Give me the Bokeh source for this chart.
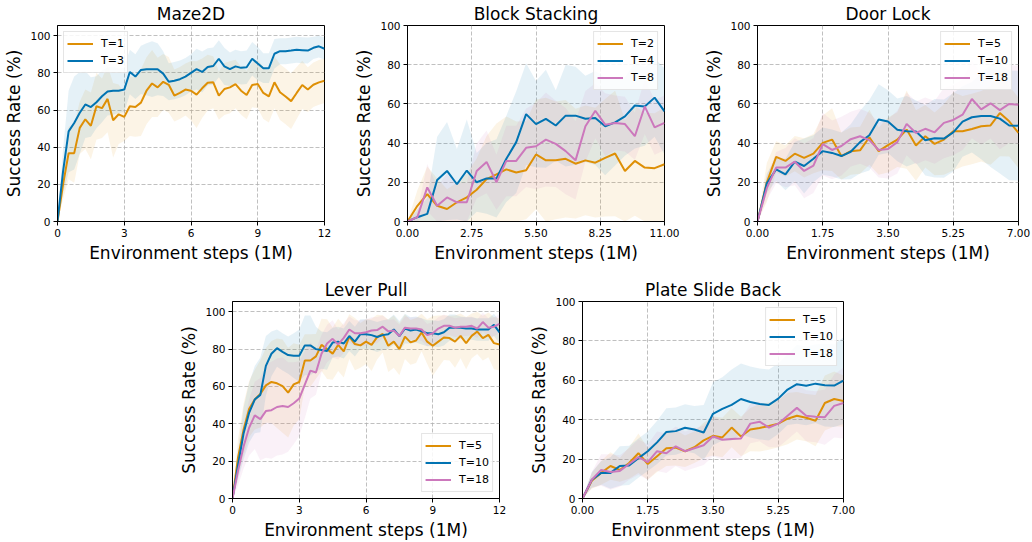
import numpy as np
from bokeh.plotting import figure
from bokeh.layouts import column, row
from bokeh.models import Range1d, FixedTicker, Legend, LegendItem, Spacer, PrintfTickFormatter
from bokeh.embed import file_html
from bokeh.resources import INLINE

ORANGE, BLUE, PINK = "#de8f05", "#0173b2", "#cc78bc"
FONT = "DejaVu Sans"

# ---------------- data ----------------
# Maze2D (0..12 M, 49 evals)
maze_t1 = [0, 20, 36.8, 36.8, 50.4, 55, 51.5, 62, 61, 66, 54.5, 57.7, 56.3, 62, 61.6, 64,
           70.4, 74.3, 72.2, 75.2, 73.6, 67.8, 69.2, 71, 70.4, 68.3, 71.7, 74.7, 74.9, 67.8,
           71.3, 72.2, 74, 70.4, 68.1, 73.5, 74, 69.2, 67.3, 74.9, 69.6, 67.3, 64.8, 69.2,
           73.5, 71, 73.6, 74.9, 75.8]
maze_t1_sd = [0, 8, 14, 16, 14, 16, 18, 18, 16, 18, 20, 16, 13, 16, 16, 18, 18, 18, 16, 15,
              15, 14, 14, 14, 16, 18, 16, 15, 14, 13, 14, 14, 13, 13, 13, 12, 13, 14, 14, 14,
              15, 15, 15, 14, 13, 12, 12, 12, 12]
maze_t3 = [0, 27, 48.5, 53, 58.5, 63, 61.6, 64.2, 67.4, 70, 70.4, 70.4, 71, 80.5, 78, 81.6,
           82, 82, 82, 79.6, 75.2, 75.8, 76.6, 78, 80, 82, 80.5, 83.2, 83.7, 87.6, 83.5, 82,
           83.5, 82.7, 83, 87.6, 85, 82.5, 82.5, 90.3, 91.7, 91.7, 92, 92.4, 92.2, 92, 93.5,
           94.3, 93]
maze_t3_sd = [0, 12, 22, 25, 22, 18, 16, 14, 14, 13, 13, 12, 12, 12, 12, 13, 14, 15, 14, 12,
              10, 10, 10, 10, 10, 11, 11, 10, 10, 10, 10, 9, 9, 9, 9, 9, 9, 8, 8, 8, 7, 7, 7,
              7, 7, 7, 6, 6, 6]

# Block Stacking (0..11 M, 27 evals)
block_t2 = [0, 8, 14, 8, 6.4, 9.8, 12.3, 16.2, 21.6, 24, 26.6, 25, 26.1, 34.2, 31.2, 31.2,
            32, 29.5, 31.2, 30, 32.5, 34.7, 25.8, 30.9, 27.5, 27.2, 29.2]
block_t2_sd = [0, 8, 14, 14, 10, 10, 12, 16, 22, 26, 27, 26, 25, 28, 32, 30, 30, 28, 28, 28,
               30, 32, 26, 28, 28, 28, 29]
block_t4 = [0, 2.2, 3.9, 21.2, 25.8, 19, 26, 20, 22, 22, 32, 40.5, 54.8, 49.7, 52.4, 49, 54,
            54, 52.4, 52.8, 48.6, 50.6, 53.6, 59.2, 58.7, 63.2, 56.2]
block_t4_sd = [0, 4, 8, 22, 25, 18, 26, 15, 18, 20, 22, 26, 26, 22, 25, 18, 26, 25, 22, 24,
               25, 22, 20, 22, 20, 20, 22]
block_t8 = [0, 2.2, 17.4, 8, 12.3, 9.8, 9.8, 25.8, 30.4, 20, 30.9, 30.9, 37.6, 38.4, 41.8,
            39.6, 35.9, 31.2, 48.6, 56.5, 49.4, 50.3, 49.7, 43.5, 58.7, 48, 50.3]
block_t8_sd = [0, 3, 12, 10, 12, 10, 10, 14, 16, 14, 18, 18, 20, 22, 24, 22, 22, 20, 18, 14,
               16, 14, 14, 12, 14, 14, 14]

# Door Lock (0..7 M, 29 evals)
door_t5 = [0, 19.9, 33, 30.9, 34.6, 32.5, 34.6, 40.1, 41.8, 33.4, 35.9, 36.3, 43, 35.9, 39,
           41.8, 46.9, 38.8, 43.5, 39.6, 41.8, 46, 46, 47.2, 48.6, 49, 55.3, 51.1, 45.2]
door_t5_sd = [0, 10, 8, 8, 9, 10, 10, 14, 16, 12, 12, 12, 14, 12, 14, 14, 20, 18, 16, 16, 18,
              20, 18, 18, 18, 20, 22, 18, 18]
door_t10 = [0, 19.5, 26.6, 24, 30.5, 28.3, 32, 35.9, 35, 33.4, 35.6, 40.5, 44, 52, 51, 46.8,
            46, 45.9, 41.5, 42.5, 42.3, 45.5, 51, 53.2, 53.8, 53.8, 52.5, 49, 48.9]
door_t10_sd = [0, 5, 6, 8, 10, 14, 12, 12, 12, 12, 14, 16, 18, 18, 16, 16, 18, 16, 18, 20, 20,
               20, 18, 18, 22, 26, 28, 28, 28]
door_t18 = [0, 17, 27.5, 27.5, 30.5, 25.8, 28.5, 39.5, 36.5, 38.5, 42, 43.5, 41.5, 36.5, 37,
            40.5, 49.8, 45.2, 47.3, 45.5, 50.3, 51.8, 54.5, 62.5, 57.2, 60.3, 56.8, 60, 59.5]
door_t18_sd = [0, 6, 8, 10, 12, 14, 14, 16, 15, 15, 14, 14, 14, 14, 15, 16, 16, 16, 16, 16,
               18, 18, 18, 20, 18, 18, 20, 20, 20]

# Lever Pull (0..12 M, 49 evals)
lever_t5 = [0, 22, 37, 48, 53, 56, 60.6, 62.4, 61.7, 60.2, 56.7, 61.1, 62.4, 73.9, 73.9, 76.1,
            82.3, 80, 77.6, 82.3, 78.8, 86.7, 82.7, 82, 84, 82.3, 86.4, 88.2, 81.8, 84, 80,
            86.7, 83.6, 84.6, 88.9, 84, 81.8, 84, 86.2, 85.9, 84, 87.1, 83.2, 87.1, 89.4, 85.9,
            87.6, 83.2, 82.5]
lever_t5_sd = [0, 10, 14, 15, 16, 18, 20, 22, 24, 25, 24, 22, 20, 14, 14, 12, 14, 16, 14, 14,
               14, 12, 14, 12, 12, 14, 12, 10, 14, 14, 14, 12, 12, 12, 10, 12, 16, 14, 12, 12,
               14, 12, 14, 12, 12, 12, 12, 14, 14]
lever_t10 = [0, 18, 35, 46, 53, 55.5, 71, 77.5, 80.5, 78.5, 76.8, 76.5, 76.5, 82, 82, 80, 79.5,
             79, 83.5, 84, 83, 87, 84, 88, 88, 87.5, 86.5, 87.5, 88, 90.5, 87, 91, 90, 90.5,
             89.5, 88.5, 88.5, 88, 89, 91.5, 91.5, 91.5, 91, 91, 90.5, 90.5, 90.5, 93, 89]
lever_t10_sd = [0, 8, 14, 16, 18, 20, 16, 12, 10, 10, 10, 12, 14, 16, 16, 12, 10, 10, 8, 8, 8,
                8, 8, 8, 8, 8, 8, 8, 8, 8, 8, 8, 7, 7, 7, 7, 7, 7, 7, 7, 7, 6, 6, 6, 6, 6, 6,
                6, 6]
lever_t18 = [0, 15, 28, 38, 44.5, 42.5, 46.8, 47.3, 49, 49.5, 49, 51, 53.5, 61, 68.5, 67.5,
             77.5, 83, 85.5, 82.5, 86, 90.5, 88.5, 88.5, 89, 90, 90.2, 92, 89.5, 90, 87, 91.5,
             91, 91, 90.5, 87.5, 88.5, 91, 92.5, 92.5, 91.5, 92, 92, 92.5, 91, 94.5, 91.5, 92,
             93.5]
lever_t18_sd = [0, 8, 12, 15, 18, 22, 25, 26, 26, 26, 24, 22, 20, 18, 15, 12, 10, 10, 10, 8, 8,
                7, 7, 7, 7, 7, 7, 6, 6, 6, 6, 6, 6, 6, 6, 6, 6, 6, 6, 5, 5, 5, 5, 5, 5, 5, 5,
                5, 5]

# Plate Slide Back (0..7 M, 29 evals)
plate_t5 = [0, 9, 13, 16.5, 14.5, 18, 23, 17.5, 21.5, 25.5, 25.8, 24, 26, 29.5, 31.8, 31, 36,
            31.5, 35, 35.8, 36.8, 38, 40.5, 42, 41, 39.5, 48.5, 50.5, 49.5]
plate_t5_sd = [0, 4, 6, 7, 6, 8, 10, 8, 8, 9, 9, 8, 8, 9, 10, 10, 10, 10, 11, 12, 12, 12, 13,
               12, 12, 13, 14, 14, 13]
plate_t10 = [0, 9.5, 13, 13, 16.5, 16.8, 20.5, 24, 28.5, 33.8, 34.2, 35.9, 35, 33.5, 43, 45.5,
             47.5, 50.5, 49, 48, 47.5, 50.7, 55.3, 58, 57.2, 58.3, 57.5, 57.3, 59.8]
plate_t10_sd = [0, 4, 6, 8, 10, 10, 10, 10, 11, 12, 12, 12, 12, 14, 16, 16, 18, 18, 18, 18, 18,
                18, 18, 20, 20, 20, 21, 21, 22]
plate_t18 = [0, 9.5, 14.5, 13.5, 14, 17.5, 21, 18.5, 24, 23, 26.5, 24, 25.5, 27, 31.5, 29.8,
             30.2, 30.5, 38, 39, 36, 38, 42, 46, 42, 41.5, 41.3, 47, 48.5]
plate_t18_sd = [0, 4, 8, 9, 8, 8, 9, 9, 10, 10, 10, 10, 10, 10, 10, 10, 10, 10, 10, 10, 10, 12,
                12, 12, 13, 13, 14, 16, 18]

int_ticks = [0, 3, 6, 9, 12]
block_ticks = [0, 2.75, 5.5, 8.25, 11]
door_ticks = [0, 1.75, 3.5, 5.25, 7]
y_ticks = [0, 20, 40, 60, 80, 100]


def panel(title, xmax, series, xticks, decimals, ymax, loc, width, height, bl, br, bt, bb):
    p = figure(width=width, height=height, output_backend="svg", toolbar_location=None,
               x_range=Range1d(0, xmax), y_range=Range1d(0, ymax),
               min_border_left=bl, min_border_right=br, min_border_top=bt,
               min_border_bottom=bb, background_fill_color="white",
               border_fill_color="white")
    p.title.text = title
    p.title.align = "center"
    p.title.text_font = FONT
    p.title.text_font_size = "17px"
    p.title.text_font_style = "normal"
    p.title.text_color = "black"
    p.title.standoff = 3
    p.outline_line_color = "black"
    p.outline_line_width = 1
    p.outline_line_alpha = 1
    p.xaxis.ticker = FixedTicker(ticks=xticks)
    p.yaxis.ticker = FixedTicker(ticks=y_ticks)
    if decimals:
        p.xaxis.formatter = PrintfTickFormatter(format="%.2f")
    p.xaxis.axis_label = "Environment steps (1M)"
    p.yaxis.axis_label = "Success Rate (%)"
    for ax in (p.xaxis, p.yaxis):
        ax.axis_label_text_font = FONT
        ax.axis_label_text_font_size = "17px"
        ax.axis_label_text_font_style = "normal"
        ax.axis_label_text_color = "black"
        ax.major_label_text_font = FONT
        ax.major_label_text_font_size = "10.5px"
        ax.major_label_text_color = "black"
        ax.axis_line_color = "black"
        ax.major_tick_line_color = "black"
        ax.major_tick_out = 4
        ax.major_tick_in = 0
        ax.minor_tick_line_color = None
        ax.major_label_standoff = 3
        ax.axis_label_standoff = 3
    p.grid.grid_line_color = "#b0b0b0"
    p.grid.grid_line_dash = "4 2"
    p.grid.grid_line_alpha = 0.8

    items = []
    for label, color, mean, sd in series:
        assert len(mean) == len(sd)
        n = len(mean)
        x = np.linspace(0, xmax, n)
        m = np.array(mean, dtype=float)
        s = np.array(sd, dtype=float)
        lo = np.clip(m - s, 0, 100)
        hi = np.clip(m + s, 0, 100)
        p.varea(x=x, y1=lo, y2=hi, fill_color=color, fill_alpha=0.1)
    for label, color, mean, sd in series:
        x = np.linspace(0, xmax, len(mean))
        r = p.line(x, mean, line_color=color, line_width=2)
        items.append(LegendItem(label=label, renderers=[r]))
    lg = Legend(items=items, location=loc)
    lg.label_text_font = FONT
    lg.label_text_font_size = "11px"
    lg.label_text_color = "black"
    lg.label_height = 17
    lg.glyph_height = 17
    lg.glyph_width = 26
    lg.label_standoff = 8
    lg.spacing = 0
    lg.padding = 3
    lg.margin = 6
    lg.border_line_color = "#cccccc"
    lg.border_line_width = 1
    lg.background_fill_alpha = 0.85
    p.add_layout(lg)
    return p


p1 = panel("Maze2D", 12, [("T=1", ORANGE, maze_t1, maze_t1_sd),
                          ("T=3", BLUE, maze_t3, maze_t3_sd)],
           int_ticks, False, 105.5, "top_left", 340, 270, 57, 16, 23, 49)
p2 = panel("Block Stacking", 11, [("T=2", ORANGE, block_t2, block_t2_sd),
                                  ("T=4", BLUE, block_t4, block_t4_sd),
                                  ("T=8", PINK, block_t8, block_t8_sd)],
           block_ticks, True, 100, "top_right", 350, 270, 67, 26, 23, 49)
p3 = panel("Door Lock", 7, [("T=5", ORANGE, door_t5, door_t5_sd),
                            ("T=10", BLUE, door_t10, door_t10_sd),
                            ("T=18", PINK, door_t18, door_t18_sd)],
           door_ticks, True, 100, "top_right", 342, 270, 67, 14, 23, 49)
p4 = panel("Lever Pull", 12, [("T=5", ORANGE, lever_t5, lever_t5_sd),
                              ("T=10", BLUE, lever_t10, lever_t10_sd),
                              ("T=18", PINK, lever_t18, lever_t18_sd)],
           int_ticks, False, 105.5, "bottom_right", 349, 272, 62, 20, 29, 43)
p5 = panel("Plate Slide Back", 7, [("T=5", ORANGE, plate_t5, plate_t5_sd),
                                   ("T=10", BLUE, plate_t10, plate_t10_sd),
                                   ("T=18", PINK, plate_t18, plate_t18_sd)],
           door_ticks, True, 100, "top_right", 513, 272, 63, 189, 31, 43)

layout = column(row(p1, p2, p3, spacing=0),
                row(Spacer(width=170, height=272), p4, p5, spacing=0), spacing=0)

open("out.html", "w").write(file_html(layout, INLINE))
